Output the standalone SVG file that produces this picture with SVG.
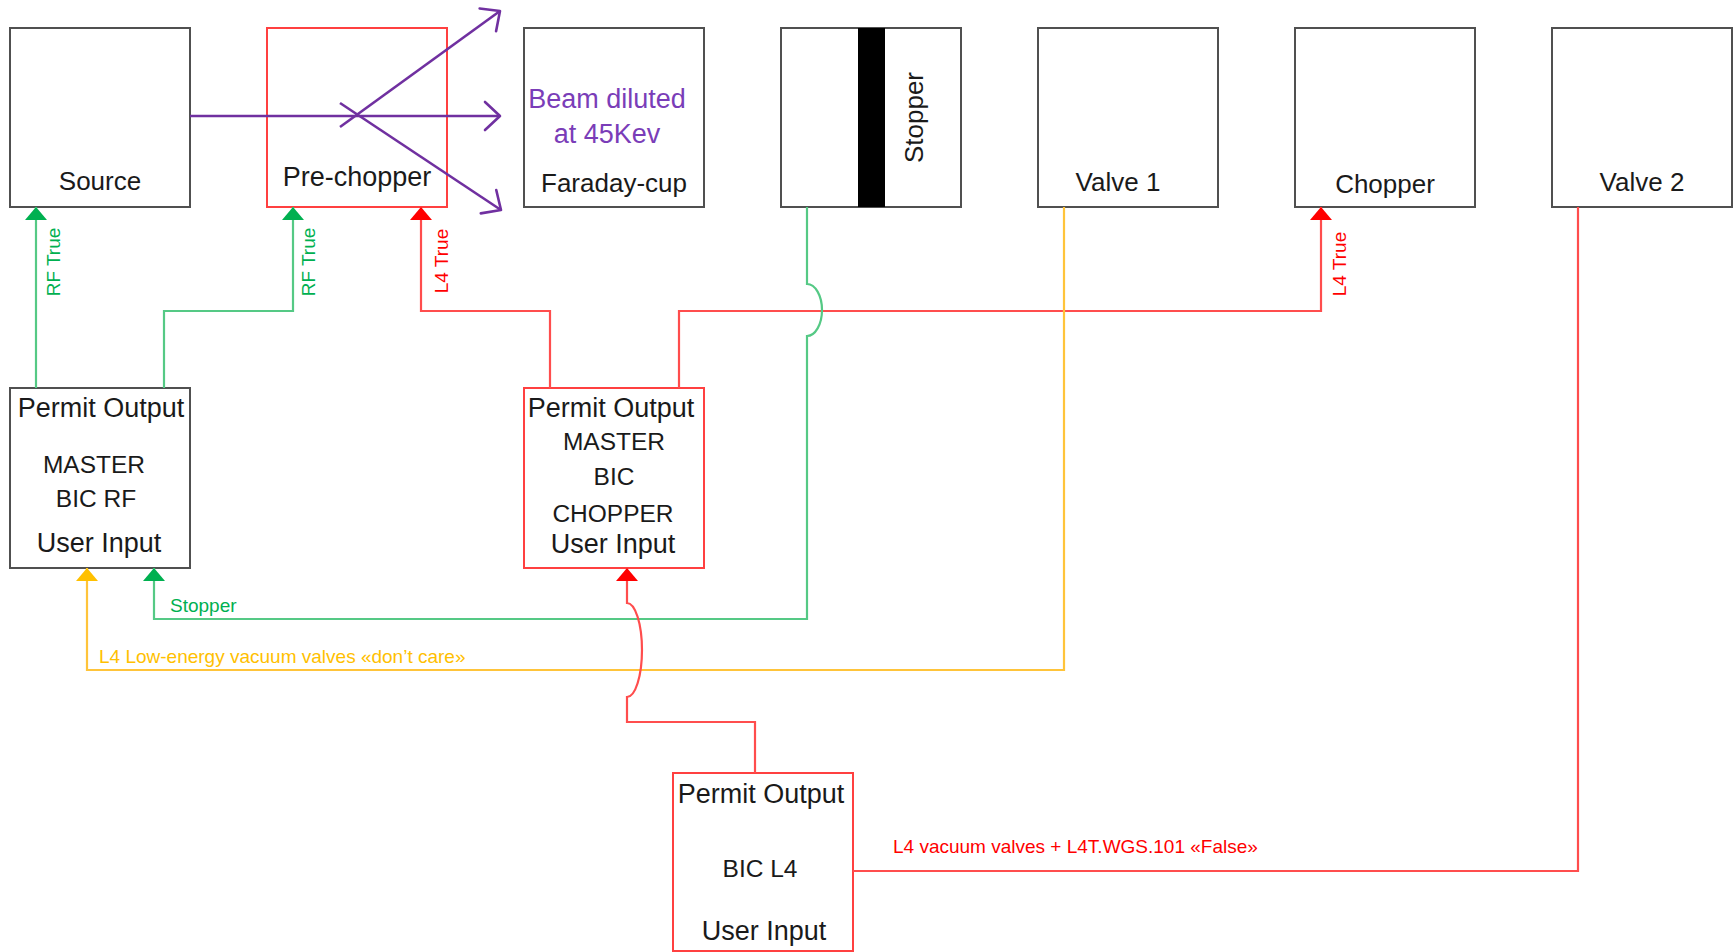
<svg xmlns="http://www.w3.org/2000/svg" width="1736" height="952" viewBox="0 0 1736 952">
<style>
.box{fill:#fff;stroke:#505050;stroke-width:2}
.rbox{fill:#fff;stroke:#ff4040;stroke-width:2}
.t{font-family:"Liberation Sans",Arial,sans-serif;font-size:26px;fill:#1a1a1a;text-anchor:middle}
.w{font-size:27px}
.c{font-size:24.5px}
.pt{font-family:"Liberation Sans",Arial,sans-serif;font-size:27px;fill:#7a3db8;text-anchor:middle}
.lbl{font-family:"Liberation Sans",Arial,sans-serif;font-size:19px}
.g{stroke:#55c985;stroke-width:2.2;fill:none}
.r{stroke:#ff4d4d;stroke-width:2.2;fill:none}
.y{stroke:#ffc43a;stroke-width:2.2;fill:none}
.p{stroke:#7030a0;stroke-width:2.6;fill:none}
</style>
<defs>
<marker id="ag" viewBox="-14 -12 16 24" refX="0" refY="0" markerWidth="16" markerHeight="24" markerUnits="userSpaceOnUse" orient="auto"><path d="M-13,-11 L0,0 L-13,11 z" fill="#00b050"/></marker>
<marker id="ar" viewBox="-14 -12 16 24" refX="0" refY="0" markerWidth="16" markerHeight="24" markerUnits="userSpaceOnUse" orient="auto"><path d="M-13,-11 L0,0 L-13,11 z" fill="#ff0000"/></marker>
<marker id="ay" viewBox="-14 -12 16 24" refX="0" refY="0" markerWidth="16" markerHeight="24" markerUnits="userSpaceOnUse" orient="auto"><path d="M-13,-11 L0,0 L-13,11 z" fill="#ffc000"/></marker>
<marker id="ap" viewBox="-20 -18 24 36" refX="0" refY="0" markerWidth="24" markerHeight="36" markerUnits="userSpaceOnUse" orient="auto"><path d="M-15,-14 L0,0 L-15,14" fill="none" stroke="#7030a0" stroke-width="2.6" stroke-linecap="round" stroke-linejoin="round"/></marker>
</defs>

<g id="source"><rect class="box" x="10" y="28" width="180" height="179"/><text class="t" x="100" y="190">Source</text></g>
<g id="prechopper"><rect class="rbox" x="267" y="28" width="180" height="179"/><text class="t w" x="357" y="186">Pre-chopper</text></g>
<g id="faraday"><rect class="box" x="524" y="28" width="180" height="179"/><text class="pt" x="607" y="108">Beam diluted</text><text class="pt" x="607" y="143">at 45Kev</text><text class="t" x="614" y="192">Faraday-cup</text></g>
<g id="stopper"><rect class="box" x="781" y="28" width="180" height="179"/><rect x="858" y="28" width="27" height="179" fill="#000"/><text class="t" transform="translate(923,117.5) rotate(-90)" x="0" y="0">Stopper</text></g>
<g id="valve1"><rect class="box" x="1038" y="28" width="180" height="179"/><text class="t" x="1118" y="191">Valve 1</text></g>
<g id="chopper"><rect class="box" x="1295" y="28" width="180" height="179"/><text class="t" x="1385" y="193">Chopper</text></g>
<g id="valve2"><rect class="box" x="1552" y="28" width="180" height="179"/><text class="t" x="1642" y="191">Valve 2</text></g>

<g id="bic-rf"><rect class="box" x="10" y="388" width="180" height="180"/>
<text class="t w" x="101" y="417">Permit Output</text><text class="t c" x="94" y="473">MASTER</text><text class="t c" x="96" y="507">BIC RF</text><text class="t w" x="99" y="552">User Input</text></g>
<g id="bic-chopper"><rect class="rbox" x="524" y="388" width="180" height="180"/>
<text class="t w" x="611" y="417">Permit Output</text><text class="t c" x="614" y="450">MASTER</text><text class="t c" x="614" y="485">BIC</text><text class="t c" x="613" y="522">CHOPPER</text><text class="t w" x="613" y="553">User Input</text></g>
<g id="bic-l4"><rect class="rbox" x="673" y="773" width="180" height="178"/>
<text class="t w" x="761" y="803">Permit Output</text><text class="t c" x="760" y="877">BIC L4</text><text class="t w" x="764" y="940">User Input</text></g>

<g id="connectors">
<path class="p" d="M190,116 L500,116" marker-end="url(#ap)"/>
<path class="p" d="M340,127 L500,11" marker-end="url(#ap)"/>
<path class="p" d="M340,103 L501,210" marker-end="url(#ap)"/>

<path class="g" d="M36,388 V207" marker-end="url(#ag)"/>
<path class="g" d="M164,388 V311 H293 V207" marker-end="url(#ag)"/>
<path class="r" d="M550,388 V311 H421 V207" marker-end="url(#ar)"/>
<path class="r" d="M679,388 V311 H1321 V207" marker-end="url(#ar)"/>
<path class="g" d="M807,207 V284 A15,26 0 0 1 807,336 V619 H154 V568" marker-end="url(#ag)"/>
<path class="y" d="M1064,207 V670 H87 V568" marker-end="url(#ay)"/>
<path class="r" d="M755,773 V722 H627 V697 A15,47 0 0 0 627,603 V568" marker-end="url(#ar)"/>
<path class="r" d="M853,871 H1578 V207"/>

<text class="lbl" fill="#00b050" text-anchor="middle" transform="translate(60,262) rotate(-90)">RF True</text>
<text class="lbl" fill="#00b050" text-anchor="middle" transform="translate(315,262) rotate(-90)">RF True</text>
<text class="lbl" fill="#ff0000" text-anchor="middle" transform="translate(448,261) rotate(-90)">L4 True</text>
<text class="lbl" fill="#ff0000" text-anchor="middle" transform="translate(1346,264) rotate(-90)">L4 True</text>
<text class="lbl" fill="#00b050" x="170" y="612">Stopper</text>
<text class="lbl" fill="#ffc000" x="99" y="663">L4 Low-energy vacuum valves «don’t care»</text>
<text class="lbl" fill="#ff0000" x="893" y="853">L4 vacuum valves + L4T.WGS.101 «False»</text>
</g>
</svg>
